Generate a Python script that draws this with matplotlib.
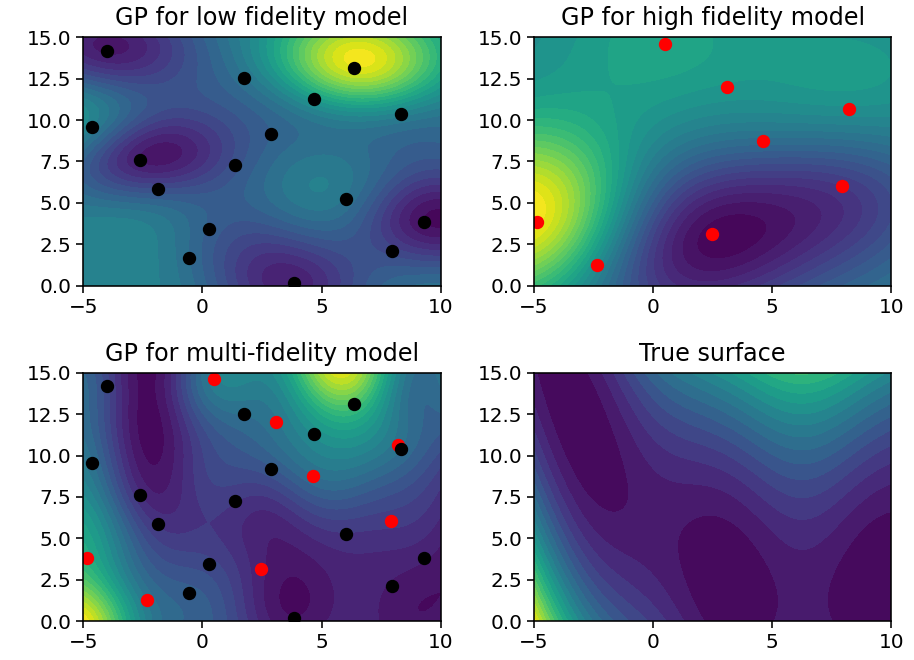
import numpy as np
import matplotlib.pyplot as plt

x_low = [-3.99, -4.65, -2.62, -1.87, -0.55, 0.27, 1.38, 1.73, 2.86, 4.70, 6.35, 8.33, 6.04, 9.31, 7.94, 3.84]
y_low = [14.19, 9.56, 7.59, 5.84, 1.67, 3.42, 7.27, 12.52, 9.18, 11.27, 13.13, 10.37, 5.23, 3.83, 2.09, 0.18]
f_low = [0.03, 0.40, 0.04, 0.20, 0.32, 0.27, 0.22, 0.35, 0.28, 0.52, 0.95, 0.42, 0.35, 0.00, 0.18, 0.05]

# high fidelity samples (red dots)
x_high = [0.50, 3.10, 8.21, 4.62, 7.91, -4.86, 2.45, -2.34]
y_high = [14.60, 12.02, 10.65, 8.74, 6.04, 3.83, 3.14, 1.27]
f_high = [106, 95, 88, 63, 30, 176, 3, 87]

# multi-fidelity prediction (0..1 of its colour range) read at the dots ...
m_low = [0.22, 0.38, 0.12, 0.15, 0.30, 0.22, 0.17, 0.35, 0.28, 0.50, 0.72, 0.38, 0.15, 0.10, 0.08, 0.05]
m_high = [0.45, 0.45, 0.38, 0.38, 0.20, 0.62, 0.10, 0.40]
# ... and on a coarse grid
m_gx = [-5, -2.5, 0, 2, 4, 6, 8, 10]
m_gy = [0, 2.5, 5, 7.5, 10, 12.5, 15]
m_grid = [
    [1.00, 0.45, 0.30, 0.15, 0.04, 0.10, 0.06, 0.06],
    [0.72, 0.35, 0.25, 0.12, 0.03, 0.10, 0.07, 0.04],
    [0.60, 0.25, 0.17, 0.10, 0.10, 0.15, 0.12, 0.08],
    [0.48, 0.12, 0.17, 0.15, 0.22, 0.28, 0.22, 0.15],
    [0.38, 0.04, 0.20, 0.27, 0.35, 0.45, 0.35, 0.22],
    [0.34, 0.02, 0.28, 0.35, 0.45, 0.65, 0.42, 0.32],
    [0.32, 0.02, 0.35, 0.45, 0.65, 0.95, 0.50, 0.38],
]

titles = ['GP for low fidelity model', 'GP for high fidelity model',
          'GP for multi-fidelity model', 'True surface']


def branin(x1, x2):
    b = 5.1 / (4 * np.pi ** 2)
    c = 5 / np.pi
    t = 1 / (8 * np.pi)
    return (x2 - b * x1 ** 2 + c * x1 - 6) ** 2 + 10 * (1 - t) * np.cos(x1) + 10


def gp_mean(px, py, vals, ls, X, Y, mu=None, noise=1e-6):
    P = np.column_stack([px, py])
    v = np.asarray(vals, float)
    if mu is None:
        mu = v.mean()
    ls = np.asarray(ls, float)

    def k(A, B):
        d = (A[:, None, :] - B[None, :, :]) / ls
        return np.exp(-0.5 * (d ** 2).sum(-1))

    K = k(P, P) + noise * np.eye(len(P))
    alpha = np.linalg.solve(K, v - mu)
    G = np.column_stack([X.ravel(), Y.ravel()])
    return (mu + k(G, P) @ alpha).reshape(X.shape)


X, Y = np.meshgrid(np.linspace(-5, 10, 150), np.linspace(0, 15, 150))

Z_low = gp_mean(x_low, y_low, f_low, [2.6, 2.3], X, Y, mu=0.4)
Z_high = gp_mean(x_high, y_high, f_high, [3.2, 3.8], X, Y)

GX, GY = np.meshgrid(m_gx, m_gy)
mx = x_low + x_high + list(GX.ravel())
my = y_low + y_high + list(GY.ravel())
mv = m_low + m_high + list(np.ravel(m_grid))
Z_multi = gp_mean(mx, my, mv, [2.2, 2.8], X, Y, noise=6e-3)
Z_true = branin(X, Y)

plt.rcParams['font.size'] = 14.4
plt.rcParams['axes.linewidth'] = 1.15
plt.rcParams['xtick.major.width'] = 1.15
plt.rcParams['ytick.major.width'] = 1.15
plt.rcParams['xtick.major.size'] = 5
plt.rcParams['ytick.major.size'] = 5

fig = plt.figure(figsize=(9.14, 6.6), dpi=100)
W, H = 914, 660
boxes = [(83.3, 37.3), (534, 37.3), (83.3, 372.7), (534, 372.7)]
axes = []
for (l, t) in boxes:
    ax = fig.add_axes([l / W, 1 - (t + 248.4) / H, 357.4 / W, 248.4 / H])
    axes.append(ax)

axes[0].contourf(X, Y, Z_low, levels=30, cmap='viridis')
axes[1].contourf(X, Y, Z_high, levels=30, cmap='viridis')
axes[2].contourf(X, Y, Z_multi, levels=30, cmap='viridis')
axes[3].contourf(X, Y, Z_true, levels=20, cmap='viridis')

for ax, title in zip(axes, titles):
    ax.set_title(title, fontsize=17.2, pad=8.6)
    ax.set_xticks([-5, 0, 5, 10])
    ax.set_yticks([0, 2.5, 5, 7.5, 10, 12.5, 15])

axes[0].plot(x_low, y_low, 'ko', markersize=8.6)
axes[1].plot(x_high, y_high, 'ro', markersize=8.6)
axes[2].plot(x_high, y_high, 'ro', markersize=8.6)
axes[2].plot(x_low, y_low, 'ko', markersize=8.6)

fig.savefig('out.png', dpi=100)
